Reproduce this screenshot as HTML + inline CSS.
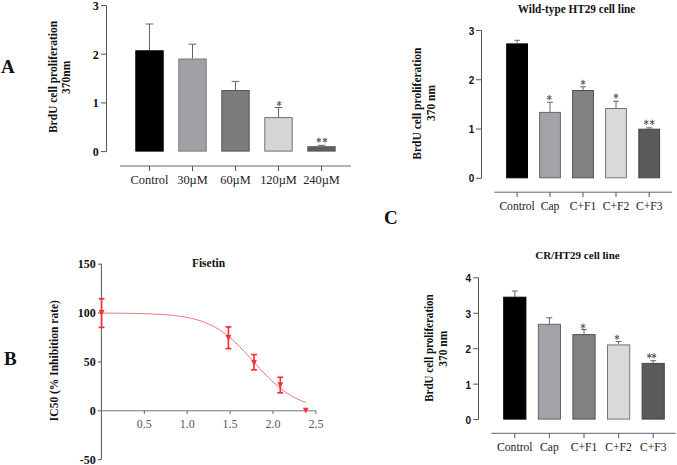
<!DOCTYPE html>
<html><head><meta charset="utf-8"><style>
html,body{margin:0;padding:0;background:#fff;}
svg{display:block;}
</style></head><body>
<svg width="677" height="465" viewBox="0 0 677 465">
<rect width="677" height="465" fill="#fff"/>
<line x1="106.5" y1="5.5" x2="106.5" y2="151.6" stroke="#555" stroke-width="1"/>
<line x1="101" y1="151.6" x2="106.5" y2="151.6" stroke="#555" stroke-width="1"/>
<text x="98.8" y="155.9" font-family='"Liberation Serif", serif' font-size="12" font-weight="bold" text-anchor="end" fill="#111" >0</text>
<line x1="101" y1="102.89999999999999" x2="106.5" y2="102.89999999999999" stroke="#555" stroke-width="1"/>
<text x="98.8" y="107.19999999999999" font-family='"Liberation Serif", serif' font-size="12" font-weight="bold" text-anchor="end" fill="#111" >1</text>
<line x1="101" y1="54.19999999999999" x2="106.5" y2="54.19999999999999" stroke="#555" stroke-width="1"/>
<text x="98.8" y="58.499999999999986" font-family='"Liberation Serif", serif' font-size="12" font-weight="bold" text-anchor="end" fill="#111" >2</text>
<line x1="101" y1="5.499999999999972" x2="106.5" y2="5.499999999999972" stroke="#555" stroke-width="1"/>
<text x="98.8" y="9.799999999999972" font-family='"Liberation Serif", serif' font-size="12" font-weight="bold" text-anchor="end" fill="#111" >3</text>
<line x1="120" y1="166" x2="351" y2="166" stroke="#666" stroke-width="1"/>
<line x1="149.5" y1="166" x2="149.5" y2="171" stroke="#555" stroke-width="1"/>
<line x1="192.5" y1="166" x2="192.5" y2="171" stroke="#555" stroke-width="1"/>
<line x1="235.5" y1="166" x2="235.5" y2="171" stroke="#555" stroke-width="1"/>
<line x1="278.5" y1="166" x2="278.5" y2="171" stroke="#555" stroke-width="1"/>
<line x1="321.5" y1="166" x2="321.5" y2="171" stroke="#555" stroke-width="1"/>
<text x="149.5" y="183.8" font-family='"Liberation Serif", serif' font-size="12.4" font-weight="normal" text-anchor="middle" fill="#222" >Control</text>
<text x="192.5" y="183.8" font-family='"Liberation Serif", serif' font-size="12.4" font-weight="normal" text-anchor="middle" fill="#222" >30&#181;M</text>
<text x="235.5" y="183.8" font-family='"Liberation Serif", serif' font-size="12.4" font-weight="normal" text-anchor="middle" fill="#222" >60&#181;M</text>
<text x="278.5" y="183.8" font-family='"Liberation Serif", serif' font-size="12.4" font-weight="normal" text-anchor="middle" fill="#222" >120&#181;M</text>
<text x="321.5" y="183.8" font-family='"Liberation Serif", serif' font-size="12.4" font-weight="normal" text-anchor="middle" fill="#222" >240&#181;M</text>
<line x1="149.5" y1="24" x2="149.5" y2="50.3" stroke="#666" stroke-width="1"/>
<line x1="145.7" y1="24" x2="153.3" y2="24" stroke="#666" stroke-width="1"/>
<rect x="135.80" y="50.80" width="27.40" height="100.30" fill="#000" stroke="#000" stroke-width="1"/>
<line x1="192.5" y1="44.2" x2="192.5" y2="58.5" stroke="#666" stroke-width="1"/>
<line x1="188.7" y1="44.2" x2="196.3" y2="44.2" stroke="#666" stroke-width="1"/>
<rect x="178.80" y="59.00" width="27.40" height="92.10" fill="#a1a1a5" stroke="#7a7a7a" stroke-width="1"/>
<line x1="235.5" y1="81.4" x2="235.5" y2="90" stroke="#666" stroke-width="1"/>
<line x1="231.7" y1="81.4" x2="239.3" y2="81.4" stroke="#666" stroke-width="1"/>
<rect x="221.80" y="90.50" width="27.40" height="60.60" fill="#7c7c7c" stroke="#555" stroke-width="1"/>
<line x1="278.5" y1="107.5" x2="278.5" y2="117.1" stroke="#666" stroke-width="1"/>
<line x1="274.7" y1="107.5" x2="282.3" y2="107.5" stroke="#666" stroke-width="1"/>
<rect x="264.80" y="117.60" width="27.40" height="33.50" fill="#d5d5d5" stroke="#707070" stroke-width="1"/>
<line x1="321.5" y1="145.3" x2="321.5" y2="146.2" stroke="#666" stroke-width="1"/>
<line x1="317.7" y1="145.3" x2="325.3" y2="145.3" stroke="#666" stroke-width="1"/>
<rect x="307.80" y="146.70" width="27.40" height="4.40" fill="#5e5e5e" stroke="#5e5e5e" stroke-width="1"/>
<path d="M279.20,101.00L279.20,106.20M276.95,102.30L281.45,104.90M276.95,104.90L281.45,102.30" stroke="#555" stroke-width="1.0" fill="none"/>
<path d="M318.90,137.60L318.90,142.80M316.65,138.90L321.15,141.50M316.65,141.50L321.15,138.90" stroke="#555" stroke-width="1.0" fill="none"/>
<path d="M325.00,137.60L325.00,142.80M322.75,138.90L327.25,141.50M322.75,141.50L327.25,138.90" stroke="#555" stroke-width="1.0" fill="none"/>
<text x="52.5" y="77" font-family='"Liberation Serif", serif' font-size="11.5" font-weight="bold" text-anchor="middle" fill="#111" transform="rotate(-90 52.5 77)" dy="4">BrdU cell proliferation</text>
<text x="66.5" y="77.3" font-family='"Liberation Serif", serif' font-size="11.5" font-weight="bold" text-anchor="middle" fill="#111" transform="rotate(-90 66.5 77.3)" dy="4">370nm</text>
<text x="1" y="72.7" font-family='"Liberation Serif", serif' font-size="19" font-weight="bold" text-anchor="start" fill="#111" >A</text>
<line x1="481.5" y1="30.6" x2="481.5" y2="178.3" stroke="#555" stroke-width="1"/>
<line x1="476" y1="178.3" x2="481.5" y2="178.3" stroke="#555" stroke-width="1"/>
<text x="474.4" y="182.4" font-family='"Liberation Sans", sans-serif' font-size="10" font-weight="bold" text-anchor="end" fill="#111" >0</text>
<line x1="476" y1="129.03" x2="481.5" y2="129.03" stroke="#555" stroke-width="1"/>
<text x="474.4" y="133.13" font-family='"Liberation Sans", sans-serif' font-size="10" font-weight="bold" text-anchor="end" fill="#111" >1</text>
<line x1="476" y1="79.76" x2="481.5" y2="79.76" stroke="#555" stroke-width="1"/>
<text x="474.4" y="83.86" font-family='"Liberation Sans", sans-serif' font-size="10" font-weight="bold" text-anchor="end" fill="#111" >2</text>
<line x1="476" y1="30.49000000000001" x2="481.5" y2="30.49000000000001" stroke="#555" stroke-width="1"/>
<text x="474.4" y="34.59000000000001" font-family='"Liberation Sans", sans-serif' font-size="10" font-weight="bold" text-anchor="end" fill="#111" >3</text>
<line x1="494.4" y1="192.2" x2="672" y2="192.2" stroke="#666" stroke-width="1"/>
<line x1="517.1" y1="192.2" x2="517.1" y2="197" stroke="#555" stroke-width="1"/>
<line x1="550" y1="192.2" x2="550" y2="197" stroke="#555" stroke-width="1"/>
<line x1="583" y1="192.2" x2="583" y2="197" stroke="#555" stroke-width="1"/>
<line x1="616" y1="192.2" x2="616" y2="197" stroke="#555" stroke-width="1"/>
<line x1="649.2" y1="192.2" x2="649.2" y2="197" stroke="#555" stroke-width="1"/>
<text x="517.1" y="209.8" font-family='"Liberation Serif", serif' font-size="11.6" font-weight="normal" text-anchor="middle" fill="#222" >Control</text>
<text x="550" y="209.8" font-family='"Liberation Serif", serif' font-size="11.6" font-weight="normal" text-anchor="middle" fill="#222" >Cap</text>
<text x="583" y="209.8" font-family='"Liberation Serif", serif' font-size="11.6" font-weight="normal" text-anchor="middle" fill="#222" >C+F1</text>
<text x="616" y="209.8" font-family='"Liberation Serif", serif' font-size="11.6" font-weight="normal" text-anchor="middle" fill="#222" >C+F2</text>
<text x="649.2" y="209.8" font-family='"Liberation Serif", serif' font-size="11.6" font-weight="normal" text-anchor="middle" fill="#222" >C+F3</text>
<line x1="517.1" y1="40.3" x2="517.1" y2="43.4" stroke="#666" stroke-width="1"/>
<line x1="514.2" y1="40.3" x2="520.0" y2="40.3" stroke="#666" stroke-width="1"/>
<rect x="506.70" y="43.90" width="20.80" height="133.90" fill="#000" stroke="#000" stroke-width="1"/>
<line x1="550" y1="102.3" x2="550" y2="111.9" stroke="#666" stroke-width="1"/>
<line x1="547.1" y1="102.3" x2="552.9" y2="102.3" stroke="#666" stroke-width="1"/>
<rect x="539.60" y="112.40" width="20.80" height="65.40" fill="#a2a2a8" stroke="#666" stroke-width="1"/>
<line x1="583" y1="86.8" x2="583" y2="90" stroke="#666" stroke-width="1"/>
<line x1="580.1" y1="86.8" x2="585.9" y2="86.8" stroke="#666" stroke-width="1"/>
<rect x="572.60" y="90.50" width="20.80" height="87.30" fill="#828282" stroke="#505050" stroke-width="1"/>
<line x1="616" y1="101.3" x2="616" y2="108" stroke="#666" stroke-width="1"/>
<line x1="613.1" y1="101.3" x2="618.9" y2="101.3" stroke="#666" stroke-width="1"/>
<rect x="605.60" y="108.50" width="20.80" height="69.30" fill="#d9d9d9" stroke="#777" stroke-width="1"/>
<line x1="649.2" y1="127.8" x2="649.2" y2="128.7" stroke="#666" stroke-width="1"/>
<line x1="646.3000000000001" y1="127.8" x2="652.1" y2="127.8" stroke="#666" stroke-width="1"/>
<rect x="638.80" y="129.20" width="20.80" height="48.60" fill="#5a5a5a" stroke="#444" stroke-width="1"/>
<path d="M549.30,95.00L549.30,100.20M547.05,96.30L551.55,98.90M547.05,98.90L551.55,96.30" stroke="#555" stroke-width="1.0" fill="none"/>
<path d="M583.00,79.80L583.00,85.00M580.75,81.10L585.25,83.70M580.75,83.70L585.25,81.10" stroke="#555" stroke-width="1.0" fill="none"/>
<path d="M616.00,93.40L616.00,98.60M613.75,94.70L618.25,97.30M613.75,97.30L618.25,94.70" stroke="#555" stroke-width="1.0" fill="none"/>
<path d="M646.20,119.70L646.20,124.90M643.95,121.00L648.45,123.60M643.95,123.60L648.45,121.00" stroke="#555" stroke-width="1.0" fill="none"/>
<path d="M652.20,119.70L652.20,124.90M649.95,121.00L654.45,123.60M649.95,123.60L654.45,121.00" stroke="#555" stroke-width="1.0" fill="none"/>
<text x="517.8" y="12.9" font-family='"Liberation Serif", serif' font-size="12" font-weight="bold" text-anchor="start" fill="#111"  textLength="117.5" lengthAdjust="spacingAndGlyphs">Wild-type HT29 cell line</text>
<text x="417.5" y="103.6" font-family='"Liberation Serif", serif' font-size="11.5" font-weight="bold" text-anchor="middle" fill="#111" transform="rotate(-90 417.5 103.6)" dy="4">BrdU cell proliferation</text>
<text x="431" y="103" font-family='"Liberation Serif", serif' font-size="11.5" font-weight="bold" text-anchor="middle" fill="#111" transform="rotate(-90 431 103)" dy="4">370 nm</text>
<text x="384" y="224.4" font-family='"Liberation Serif", serif' font-size="19" font-weight="bold" text-anchor="start" fill="#111" >C</text>
<line x1="478.5" y1="277.8" x2="478.5" y2="419.6" stroke="#555" stroke-width="1"/>
<line x1="473.2" y1="419.6" x2="478.5" y2="419.6" stroke="#555" stroke-width="1"/>
<text x="471" y="424.0" font-family='"Liberation Sans", sans-serif' font-size="10" font-weight="bold" text-anchor="end" fill="#111" >0</text>
<line x1="473.2" y1="384.15000000000003" x2="478.5" y2="384.15000000000003" stroke="#555" stroke-width="1"/>
<text x="471" y="388.55" font-family='"Liberation Sans", sans-serif' font-size="10" font-weight="bold" text-anchor="end" fill="#111" >1</text>
<line x1="473.2" y1="348.70000000000005" x2="478.5" y2="348.70000000000005" stroke="#555" stroke-width="1"/>
<text x="471" y="353.1" font-family='"Liberation Sans", sans-serif' font-size="10" font-weight="bold" text-anchor="end" fill="#111" >2</text>
<line x1="473.2" y1="313.25" x2="478.5" y2="313.25" stroke="#555" stroke-width="1"/>
<text x="471" y="317.65" font-family='"Liberation Sans", sans-serif' font-size="10" font-weight="bold" text-anchor="end" fill="#111" >3</text>
<line x1="473.2" y1="277.8" x2="478.5" y2="277.8" stroke="#555" stroke-width="1"/>
<text x="471" y="282.2" font-family='"Liberation Sans", sans-serif' font-size="10" font-weight="bold" text-anchor="end" fill="#111" >4</text>
<line x1="491.3" y1="433.3" x2="675.6" y2="433.3" stroke="#666" stroke-width="1"/>
<line x1="514.8" y1="433.3" x2="514.8" y2="438" stroke="#555" stroke-width="1"/>
<line x1="549.4" y1="433.3" x2="549.4" y2="438" stroke="#555" stroke-width="1"/>
<line x1="584" y1="433.3" x2="584" y2="438" stroke="#555" stroke-width="1"/>
<line x1="618.6" y1="433.3" x2="618.6" y2="438" stroke="#555" stroke-width="1"/>
<line x1="653.2" y1="433.3" x2="653.2" y2="438" stroke="#555" stroke-width="1"/>
<text x="514.8" y="450.9" font-family='"Liberation Serif", serif' font-size="11.6" font-weight="normal" text-anchor="middle" fill="#222" >Control</text>
<text x="549.4" y="450.9" font-family='"Liberation Serif", serif' font-size="11.6" font-weight="normal" text-anchor="middle" fill="#222" >Cap</text>
<text x="584" y="450.9" font-family='"Liberation Serif", serif' font-size="11.6" font-weight="normal" text-anchor="middle" fill="#222" >C+F1</text>
<text x="618.6" y="450.9" font-family='"Liberation Serif", serif' font-size="11.6" font-weight="normal" text-anchor="middle" fill="#222" >C+F2</text>
<text x="653.2" y="450.9" font-family='"Liberation Serif", serif' font-size="11.6" font-weight="normal" text-anchor="middle" fill="#222" >C+F3</text>
<line x1="514.8" y1="291" x2="514.8" y2="296.7" stroke="#666" stroke-width="1"/>
<line x1="511.9" y1="291" x2="517.6999999999999" y2="291" stroke="#666" stroke-width="1"/>
<rect x="503.70" y="297.20" width="22.20" height="121.90" fill="#000" stroke="#000" stroke-width="1"/>
<line x1="549.4" y1="317.8" x2="549.4" y2="323.8" stroke="#666" stroke-width="1"/>
<line x1="546.5" y1="317.8" x2="552.3" y2="317.8" stroke="#666" stroke-width="1"/>
<rect x="538.30" y="324.30" width="22.20" height="94.80" fill="#a2a2a8" stroke="#666" stroke-width="1"/>
<line x1="584" y1="329.5" x2="584" y2="334.1" stroke="#666" stroke-width="1"/>
<line x1="581.1" y1="329.5" x2="586.9" y2="329.5" stroke="#666" stroke-width="1"/>
<rect x="572.90" y="334.60" width="22.20" height="84.50" fill="#828282" stroke="#505050" stroke-width="1"/>
<line x1="618.6" y1="341.5" x2="618.6" y2="344.4" stroke="#666" stroke-width="1"/>
<line x1="615.7" y1="341.5" x2="621.5" y2="341.5" stroke="#666" stroke-width="1"/>
<rect x="607.50" y="344.90" width="22.20" height="74.20" fill="#d9d9d9" stroke="#777" stroke-width="1"/>
<line x1="653.2" y1="360.7" x2="653.2" y2="362.9" stroke="#666" stroke-width="1"/>
<line x1="650.3000000000001" y1="360.7" x2="656.1" y2="360.7" stroke="#666" stroke-width="1"/>
<rect x="642.10" y="363.40" width="22.20" height="55.70" fill="#5a5a5a" stroke="#444" stroke-width="1"/>
<path d="M583.00,323.60L583.00,328.80M580.75,324.90L585.25,327.50M580.75,327.50L585.25,324.90" stroke="#555" stroke-width="1.0" fill="none"/>
<path d="M617.00,334.70L617.00,339.90M614.75,336.00L619.25,338.60M614.75,338.60L619.25,336.00" stroke="#555" stroke-width="1.0" fill="none"/>
<path d="M649.30,353.20L649.30,358.40M647.05,354.50L651.55,357.10M647.05,357.10L651.55,354.50" stroke="#555" stroke-width="1.0" fill="none"/>
<path d="M654.00,353.20L654.00,358.40M651.75,354.50L656.25,357.10M651.75,357.10L656.25,354.50" stroke="#555" stroke-width="1.0" fill="none"/>
<text x="535.2" y="259.3" font-family='"Liberation Serif", serif' font-size="11.2" font-weight="bold" text-anchor="start" fill="#111"  textLength="84.5" lengthAdjust="spacingAndGlyphs">CR/HT29 cell line</text>
<text x="429.3" y="348" font-family='"Liberation Serif", serif' font-size="11.5" font-weight="bold" text-anchor="middle" fill="#111" transform="rotate(-90 429.3 348)" dy="4" textLength="107.5" lengthAdjust="spacingAndGlyphs">BrdU cell proliferation</text>
<text x="443.2" y="348.7" font-family='"Liberation Serif", serif' font-size="11.5" font-weight="bold" text-anchor="middle" fill="#111" transform="rotate(-90 443.2 348.7)" dy="4">370 nm</text>
<line x1="101.4" y1="264.1" x2="101.4" y2="459.7" stroke="#555" stroke-width="1"/>
<line x1="98" y1="264.1" x2="101.4" y2="264.1" stroke="#555" stroke-width="1"/>
<text x="95.8" y="268.3" font-family='"Liberation Serif", serif' font-size="12" font-weight="bold" text-anchor="end" fill="#111" >150</text>
<line x1="98" y1="313.0" x2="101.4" y2="313.0" stroke="#555" stroke-width="1"/>
<text x="95.8" y="317.2" font-family='"Liberation Serif", serif' font-size="12" font-weight="bold" text-anchor="end" fill="#111" >100</text>
<line x1="98" y1="361.90000000000003" x2="101.4" y2="361.90000000000003" stroke="#555" stroke-width="1"/>
<text x="95.8" y="366.1" font-family='"Liberation Serif", serif' font-size="12" font-weight="bold" text-anchor="end" fill="#111" >50</text>
<line x1="98" y1="410.8" x2="101.4" y2="410.8" stroke="#555" stroke-width="1"/>
<text x="95.8" y="415.0" font-family='"Liberation Serif", serif' font-size="12" font-weight="bold" text-anchor="end" fill="#111" >0</text>
<line x1="98" y1="459.7" x2="101.4" y2="459.7" stroke="#555" stroke-width="1"/>
<text x="95.8" y="463.9" font-family='"Liberation Serif", serif' font-size="12" font-weight="bold" text-anchor="end" fill="#111" >-50</text>
<line x1="101.4" y1="410.8" x2="316.2" y2="410.8" stroke="#777" stroke-width="1"/>
<line x1="144.3" y1="410.8" x2="144.3" y2="414" stroke="#666" stroke-width="1"/>
<text x="144.3" y="427.5" font-family='"Liberation Serif", serif' font-size="12" font-weight="normal" text-anchor="middle" fill="#555" >0.5</text>
<line x1="187.2" y1="410.8" x2="187.2" y2="414" stroke="#666" stroke-width="1"/>
<text x="187.2" y="427.5" font-family='"Liberation Serif", serif' font-size="12" font-weight="normal" text-anchor="middle" fill="#555" >1.0</text>
<line x1="230.1" y1="410.8" x2="230.1" y2="414" stroke="#666" stroke-width="1"/>
<text x="230.1" y="427.5" font-family='"Liberation Serif", serif' font-size="12" font-weight="normal" text-anchor="middle" fill="#555" >1.5</text>
<line x1="273.0" y1="410.8" x2="273.0" y2="414" stroke="#666" stroke-width="1"/>
<text x="273.0" y="427.5" font-family='"Liberation Serif", serif' font-size="12" font-weight="normal" text-anchor="middle" fill="#555" >2.0</text>
<line x1="315.9" y1="410.8" x2="315.9" y2="414" stroke="#666" stroke-width="1"/>
<text x="315.9" y="427.5" font-family='"Liberation Serif", serif' font-size="12" font-weight="normal" text-anchor="middle" fill="#555" >2.5</text>
<text x="208.5" y="266.5" font-family='"Liberation Serif", serif' font-size="11.5" font-weight="bold" text-anchor="middle" fill="#111" >Fisetin</text>
<text x="54.5" y="360.6" font-family='"Liberation Serif", serif' font-size="11.5" font-weight="bold" text-anchor="middle" fill="#111" transform="rotate(-90 54.5 360.6)" dy="4">IC50 (% Inhibition rate)</text>
<text x="4" y="365" font-family='"Liberation Serif", serif' font-size="19" font-weight="bold" text-anchor="start" fill="#111" >B</text>
<polyline points="101.40,313.09 103.10,313.10 104.81,313.11 106.51,313.12 108.21,313.13 109.92,313.14 111.62,313.15 113.32,313.16 115.03,313.17 116.73,313.19 118.43,313.20 120.13,313.22 121.84,313.24 123.54,313.26 125.24,313.28 126.95,313.30 128.65,313.32 130.35,313.35 132.06,313.38 133.76,313.41 135.46,313.44 137.17,313.47 138.87,313.51 140.57,313.55 142.28,313.60 143.98,313.65 145.68,313.70 147.38,313.75 149.09,313.81 150.79,313.88 152.49,313.95 154.20,314.03 155.90,314.11 157.60,314.20 159.31,314.29 161.01,314.39 162.71,314.50 164.42,314.62 166.12,314.75 167.82,314.89 169.53,315.04 171.23,315.20 172.93,315.38 174.63,315.56 176.34,315.77 178.04,315.98 179.74,316.22 181.45,316.47 183.15,316.73 184.85,317.02 186.56,317.34 188.26,317.67 189.96,318.03 191.67,318.41 193.37,318.82 195.07,319.26 196.78,319.73 198.48,320.24 200.18,320.77 201.88,321.35 203.59,321.96 205.29,322.61 206.99,323.31 208.70,324.05 210.40,324.83 212.10,325.67 213.81,326.55 215.51,327.48 217.21,328.46 218.92,329.50 220.62,330.60 222.32,331.75 224.03,332.95 225.73,334.21 227.43,335.53 229.13,336.91 230.84,338.34 232.54,339.83 234.24,341.37 235.95,342.96 237.65,344.59 239.35,346.28 241.06,348.00 242.76,349.77 244.46,351.57 246.17,353.40 247.87,355.25 249.57,357.13 251.28,359.01 252.98,360.91 254.68,362.81 256.38,364.71 258.09,366.59 259.79,368.47 261.49,370.32 263.20,372.15 264.90,373.95 266.60,375.72 268.31,377.45 270.01,379.14 271.71,380.78 273.42,382.37 275.12,383.91 276.82,385.40 278.53,386.83 280.23,388.21 281.93,389.53 283.63,390.80 285.34,392.00 287.04,393.15 288.74,394.25 290.45,395.29 292.15,396.28 293.85,397.21 295.56,398.10 297.26,398.93 298.96,399.72 300.67,400.46 302.37,401.16 304.07,401.81 305.78,402.43" fill="none" stroke="#f07070" stroke-width="1"/>
<line x1="101.6" y1="298.7" x2="101.6" y2="327.4" stroke="#f0343a" stroke-width="1.7"/>
<line x1="98.69999999999999" y1="298.7" x2="104.5" y2="298.7" stroke="#f0343a" stroke-width="1.7"/>
<line x1="98.69999999999999" y1="327.4" x2="104.5" y2="327.4" stroke="#f0343a" stroke-width="1.7"/>
<path d="M98.70,310.10 L104.50,310.10 L101.60,316.00 Z" fill="#f0343a"/>
<line x1="228.4" y1="326.9" x2="228.4" y2="348.6" stroke="#f0343a" stroke-width="1.7"/>
<line x1="225.5" y1="326.9" x2="231.3" y2="326.9" stroke="#f0343a" stroke-width="1.7"/>
<line x1="225.5" y1="348.6" x2="231.3" y2="348.6" stroke="#f0343a" stroke-width="1.7"/>
<path d="M225.50,335.10 L231.30,335.10 L228.40,341.00 Z" fill="#f0343a"/>
<line x1="254" y1="354.6" x2="254" y2="369.8" stroke="#f0343a" stroke-width="1.7"/>
<line x1="251.1" y1="354.6" x2="256.9" y2="354.6" stroke="#f0343a" stroke-width="1.7"/>
<line x1="251.1" y1="369.8" x2="256.9" y2="369.8" stroke="#f0343a" stroke-width="1.7"/>
<path d="M251.10,360.10 L256.90,360.10 L254.00,366.00 Z" fill="#f0343a"/>
<line x1="280.3" y1="377.3" x2="280.3" y2="392.8" stroke="#f0343a" stroke-width="1.7"/>
<line x1="277.40000000000003" y1="377.3" x2="283.2" y2="377.3" stroke="#f0343a" stroke-width="1.7"/>
<line x1="277.40000000000003" y1="392.8" x2="283.2" y2="392.8" stroke="#f0343a" stroke-width="1.7"/>
<path d="M277.40,382.30 L283.20,382.30 L280.30,388.20 Z" fill="#f0343a"/>
<path d="M302.90,407.70 L308.70,407.70 L305.80,413.60 Z" fill="#f0343a"/>
</svg>
</body></html>
